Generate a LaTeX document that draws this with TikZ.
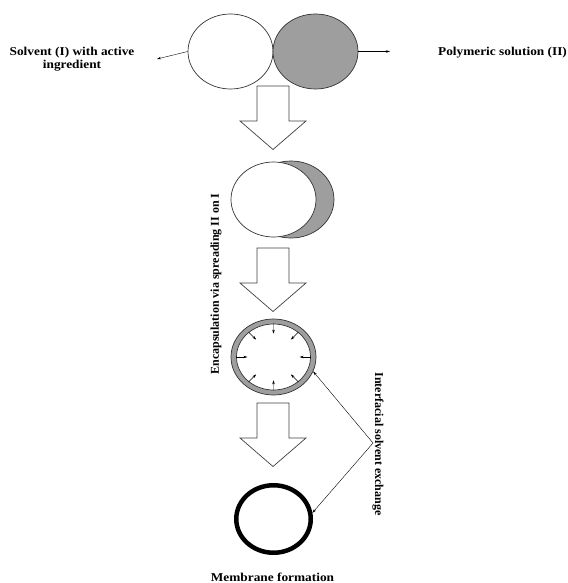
\documentclass[tikz,border=0pt]{standalone}
\usepackage{fontspec}
\setmainfont{Liberation Serif}
\usetikzlibrary{shapes}
\usetikzlibrary{arrows.meta}
\usetikzlibrary{calc}

\tikzset{
  lbl/.style={font=\bfseries\fontsize{12}{13}\selectfont, inner sep=0pt},
  widelbl/.style={lbl, xscale=1.11},
  blockarrow/.style={draw=black!75, fill=white, line width=0.7pt},
  drop/.style={ellipse, draw=black!80, line width=0.7pt, inner sep=0pt},
  tip/.style={-{Stealth[length=4pt,width=2.5pt]}},
}

\begin{document}
\begin{tikzpicture}[x=1pt,y=-1pt]
\useasboundingbox (0,0) rectangle (567,583);
%two droplets
\node[drop, fill=white, minimum width=85pt, minimum height=75pt] (solvent) at (230.5,51.5) {};%I
\node[drop, fill=black!38, minimum width=85pt, minimum height=75pt] (polymer) at (315.5,51.5) {};%II
\coordinate (solventtip) at (157,59);
\coordinate (polymertip) at (390,51.5);
\draw[tip, thin] (solvent.west) -- (solventtip);
\draw[tip, thin] (polymer.east) -- (polymertip);
\node[widelbl, align=center] (solventlbl) at (72,59.5) {Solvent (I) with active\\ingredient};
\node[widelbl] (polymerlbl) at (502.5,53) {Polymeric solution (II)};
%block arrows
\foreach \t in {86,248,403}
  \draw[blockarrow] (257,\t) -- (289,\t) -- (289,\t+35) -- (306,\t+35) -- (273,\t+63.5) -- (240,\t+35) -- (257,\t+35) -- cycle;
%spreading
\node[drop, fill=black!38, minimum width=86pt, minimum height=77pt] (shell) at (291,199.5) {};
\node[drop, fill=white, minimum width=85pt, minimum height=75pt] (core) at (273.5,199.5) {};
\node[lbl, rotate=90] (encaplbl) at (216,284) {Encapsulation via spreading II on I};
%exchange ring
\node[drop, fill=black!38, minimum width=85pt, minimum height=76pt] (ring) at (273.5,357) {};
\node[drop, fill=white, minimum width=74pt, minimum height=66pt] (ringin) at (273.5,357) {};
\foreach \a in {0,45,...,315}
  \draw[tip, thin] (ringin.\a) -- ($(ringin.center)!0.7!(ringin.\a)$);
%membrane
\node[ellipse, draw, line width=4.5pt, minimum width=74.5pt, minimum height=67.5pt, inner sep=0pt] (membrane) at (273.5,519) {};
\node[widelbl] (membranelbl) at (272.5,577) {Membrane formation};
%connectors
\coordinate (apex) at (373,443);
\draw[tip, thin] (apex) -- (ring.340);
\draw[tip, thin] (apex) -- (membrane.9);
\node[lbl, rotate=-90] (exchangelbl) at (378,444) {Interfacial solvent exchange};
\end{tikzpicture}
\end{document}
